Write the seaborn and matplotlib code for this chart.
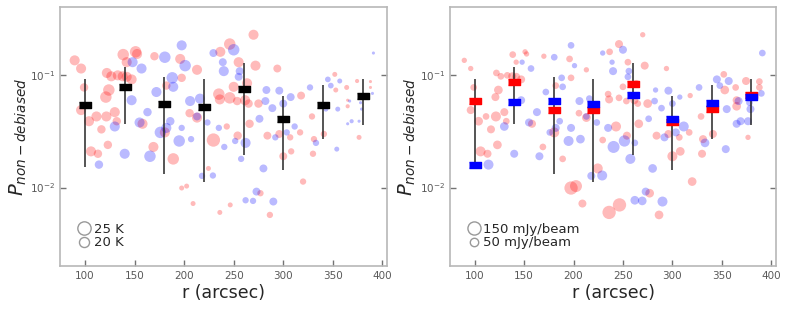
import numpy as np
import pandas as pd
import matplotlib
matplotlib.use("Agg")
import matplotlib.pyplot as plt
from matplotlib.lines import Line2D
from matplotlib.ticker import NullLocator
import seaborn as sns

# red sources: radius, P value, dust temperature (K), peak flux (mJy/beam)
red_r = [89.5, 96, 99, 96, 104, 111.5, 106, 113, 116.5, 123, 121.5, 121, 124, 122, 126.5,
         130, 132, 133, 138.5, 142, 142, 147, 151, 152.5, 138, 158, 170, 169, 180.5, 182,
         189, 196, 197.5, 205.5, 213, 213, 197.5, 202.5, 209, 224.5, 229.5, 235, 236, 243,
         236, 246.5, 246, 236.5, 246, 250, 253.5, 254, 255, 261.5, 266, 272, 270, 263.5,
         265, 275, 277, 284, 286.5, 294, 296, 300, 308, 307, 318, 320, 317, 329, 330, 331,
         341, 352, 353, 364, 365, 374.5, 376.5, 388, 388, 383, 365, 341]
red_p = [0.136, 0.115, 0.078, 0.049, 0.039, 0.043, 0.021, 0.020, 0.033, 0.024, 0.043, 0.064,
         0.074, 0.105, 0.098, 0.047, 0.039, 0.100, 0.153, 0.131, 0.097, 0.092, 0.162, 0.155,
         0.098, 0.037, 0.148, 0.023, 0.031, 0.081, 0.018, 0.140, 0.095, 0.046, 0.112, 0.042,
         0.0099, 0.0103, 0.0072, 0.0148, 0.0265, 0.068, 0.0060, 0.035, 0.061, 0.0070, 0.190,
         0.162, 0.063, 0.079, 0.059, 0.029, 0.131, 0.060, 0.037, 0.122, 0.230, 0.085, 0.056,
         0.056, 0.0089, 0.029, 0.0057, 0.115, 0.030, 0.019, 0.021, 0.028, 0.066, 0.0113,
         0.031, 0.043, 0.020, 0.027, 0.030, 0.102, 0.074, 0.078, 0.053, 0.089, 0.028, 0.088,
         0.078, 0.064, 0.060, 0.055]
red_t = [20, 20, 18, 20, 20, 20, 20, 18, 18, 18, 20, 22, 22, 20, 20, 20, 18, 20, 22, 20, 20,
         20, 22, 20, 20, 20, 18, 20, 20, 18, 22, 20, 18, 18, 20, 20, 15, 15, 15, 15, 25, 22,
         15, 16, 20, 15, 22, 20, 22, 20, 18, 18, 20, 20, 18, 20, 20, 20, 18, 18, 16, 17.5, 16,
         17.5, 17.5, 17.5, 16, 16, 17.5, 16, 16, 16, 16, 16, 16, 15, 15, 15, 14.5, 14.5, 15,
         14, 14, 14, 14, 15]
red_f = [9, 9, 25, 44, 55, 25, 79, 44, 44, 55, 79, 44, 55, 25, 25, 44, 25, 25, 25, 9, 44, 44,
         9, 9, 44, 44, 9, 25, 79, 25, 25, 25, 25, 25, 9, 55, 155, 122, 44, 79, 25, 25, 155,
         79, 44, 155, 44, 25, 25, 25, 25, 44, 25, 44, 55, 44, 9, 25, 25, 55, 55, 44, 55, 9,
         44, 79, 55, 25, 9, 55, 25, 25, 44, 44, 44, 25, 55, 25, 55, 44, 9, 25, 25, 25, 44, 25]

# blue sources
blue_r = [114, 130, 140, 147, 148, 157, 155, 163, 165.5, 172, 180.5, 176, 182, 186, 188, 189,
          195, 197.5, 201, 197.5, 206, 207, 213, 216, 218, 223.5, 229, 229.5, 235, 239, 240,
          240.5, 250, 251.5, 256, 255, 257.5, 262, 262, 269.5, 273, 276, 280, 283, 282, 289,
          290, 292, 296, 300, 303.5, 307.5, 311.5, 327, 333, 343, 345, 348, 357, 354, 355,
          367, 369, 365, 376.5, 378, 379, 390, 391, 378]
blue_p = [0.016, 0.035, 0.020, 0.060, 0.131, 0.115, 0.038, 0.047, 0.019, 0.071, 0.145, 0.031,
          0.034, 0.039, 0.095, 0.079, 0.026, 0.185, 0.122, 0.034, 0.059, 0.027, 0.043, 0.062,
          0.0127, 0.038, 0.0128, 0.158, 0.034, 0.131, 0.109, 0.023, 0.169, 0.026, 0.109, 0.097,
          0.018, 0.025, 0.0077, 0.0076, 0.0092, 0.041, 0.0148, 0.074, 0.059, 0.051, 0.0075,
          0.028, 0.073, 0.056, 0.031, 0.064, 0.035, 0.078, 0.025, 0.050, 0.092, 0.081, 0.089,
          0.022, 0.050, 0.059, 0.039, 0.037, 0.039, 0.057, 0.050, 0.069, 0.158, 0.064]
blue_t = [18, 20, 20, 20, 20, 20, 20, 18, 22, 20, 22, 22, 20, 18, 22, 20, 22, 20, 22, 16, 20,
          16, 17.5, 20, 16, 16, 16, 17.5, 16, 17.5, 20, 16, 22, 16, 17.5, 17.5, 16, 20, 16, 16,
          17.5, 17.5, 17.5, 17.5, 17.5, 17.5, 17.5, 16, 17.5, 17.5, 16, 17.5, 16, 16, 16, 15,
          15.5, 15.5, 15, 15, 15, 14, 14.5, 14, 14, 14, 14, 14, 14, 14]
blue_f = [79, 55, 44, 44, 9, 25, 44, 44, 44, 25, 25, 25, 44, 25, 25, 25, 79, 25, 9, 44, 44, 55,
          25, 25, 44, 25, 79, 9, 44, 9, 44, 122, 44, 107, 25, 25, 79, 25, 55, 55, 44, 25, 55,
          9, 25, 25, 79, 44, 44, 25, 44, 9, 79, 25, 55, 25, 44, 25, 44, 44, 44, 44, 44, 44, 44,
          25, 44, 25, 25, 25]

# binned medians and spread
bins = [100, 140, 180, 220, 260, 300, 340, 380]
med_all = [0.0546, 0.0787, 0.0553, 0.0524, 0.0761, 0.0404, 0.0542, 0.0651]
err_lo = [0.0153, 0.0367, 0.0132, 0.0111, 0.0195, 0.0142, 0.0269, 0.0360]
err_hi = [0.0934, 0.1186, 0.0966, 0.0934, 0.1300, 0.0651, 0.0815, 0.0934]
med_red = [0.059, 0.087, 0.0495, 0.0495, 0.083, 0.0383, 0.0506, 0.067]
med_blue = [0.016, 0.0575, 0.059, 0.056, 0.067, 0.0412, 0.057, 0.0638]

df = pd.DataFrame({
    "r": red_r + blue_r,
    "P": red_p + blue_p,
    "T": red_t + blue_t,
    "F": red_f + blue_f,
    "c": ["red"] * len(red_r) + ["blue"] * len(blue_r),
})

sns.set_style("ticks")
plt.rcParams["font.family"] = ["DejaVu Sans"]

fig = plt.figure(figsize=(7.88, 3.12), dpi=100)
ax1 = fig.add_axes([0.0765, 0.146, 0.415, 0.831])
ax2 = fig.add_axes([0.571, 0.146, 0.414, 0.831])

pal = {"red": (1, 0, 0), "blue": (0, 0, 1)}
t_sizes, t_norm = (5, 100), (14, 26)
f_sizes, f_norm = (10, 116), (0, 200)

sns.scatterplot(data=df, x="r", y="P", hue="c", palette=pal, size="T", sizes=t_sizes,
                size_norm=t_norm, alpha=0.27, linewidth=0, legend=False, ax=ax1)
sns.scatterplot(data=df, x="r", y="P", hue="c", palette=pal, size="F", sizes=f_sizes,
                size_norm=f_norm, alpha=0.27, linewidth=0, legend=False, ax=ax2)

rect = [(-1, -0.45), (1, -0.45), (1, 0.45), (-1, 0.45)]
for ax in (ax1, ax2):
    ax.vlines(bins, err_lo, err_hi, color="0.15", lw=1.1, zorder=3)
ax1.scatter(bins, med_all, marker=rect, s=80, color="black", zorder=4)
ax2.scatter(bins, med_red, marker=rect, s=80, color="red", zorder=4)
ax2.scatter(bins, med_blue, marker=rect, s=80, color="blue", zorder=5)


def size_of(v, sizes, norm):
    return sizes[0] + (v - norm[0]) / (norm[1] - norm[0]) * (sizes[1] - sizes[0])


def legend_handles(vals, sizes, norm):
    return [Line2D([], [], marker="o", ls="", mfc="none", mec="0.6", mew=1.0,
                   ms=np.sqrt(size_of(v, sizes, norm))) for v in vals]


ax1.legend(legend_handles([25, 20], t_sizes, t_norm), ["25 K", "20 K"],
           loc="lower left", bbox_to_anchor=(0.025, 0.03), frameon=False, fontsize=9.5,
           handlelength=1.0, handletextpad=0.2, labelspacing=0.05, borderpad=0.2)
ax2.legend(legend_handles([150, 50], f_sizes, f_norm), ["150 mJy/beam", "50 mJy/beam"],
           loc="lower left", bbox_to_anchor=(0.025, 0.03), frameon=False, fontsize=9.5,
           handlelength=1.0, handletextpad=0.2, labelspacing=0.05, borderpad=0.2)

for ax in (ax1, ax2):
    ax.set_yscale("log")
    ax.set_xlim(75, 405)
    ax.set_ylim(0.00198, 0.405)
    ax.set_xticks([100, 150, 200, 250, 300, 350, 400])
    ax.yaxis.set_minor_locator(NullLocator())
    ax.tick_params(axis="both", which="major", direction="in", length=4, width=1,
                   color="0.45", labelcolor="0.35", labelsize=7.5)
    ax.tick_params(axis="y", left=True, right=True)
    for sp in ax.spines.values():
        sp.set_visible(True)
        sp.set_color("0.72")
        sp.set_linewidth(1.2)
    ax.set_xlabel("r (arcsec)", fontsize=12.5, labelpad=2)
    ax.set_ylabel(r"$P_{non-debiased}$", fontsize=14, labelpad=1)

fig.savefig("out.png", dpi=100)
